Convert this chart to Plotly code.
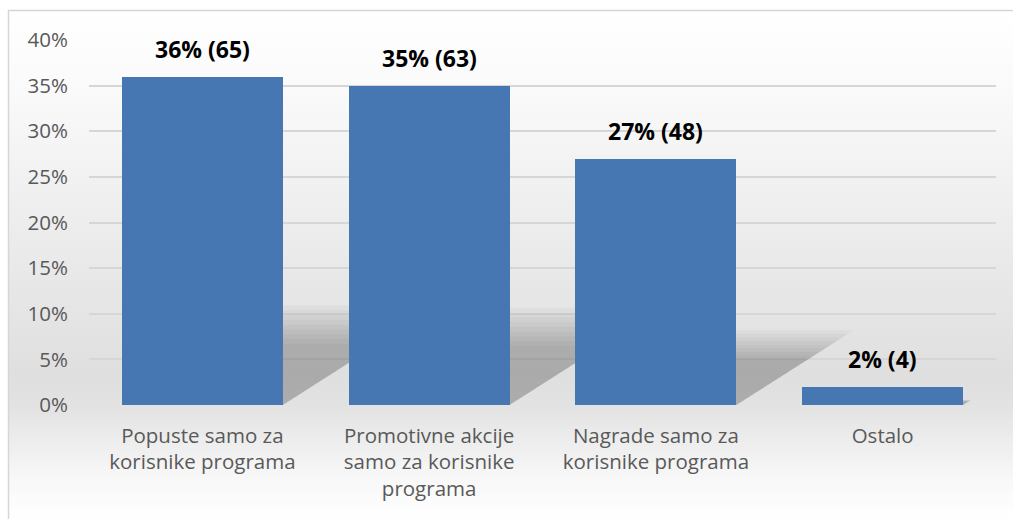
import plotly.graph_objects as go

# ---------------- data ----------------
categories = [
    "Popuste samo za<br>korisnike programa",
    "Promotivne akcije<br>samo za korisnike<br>programa",
    "Nagrade samo za<br>korisnike programa",
    "Ostalo",
]
percent = [36, 35, 27, 2]
counts = [65, 63, 48, 4]
y_ticks = [0, 5, 10, 15, 20, 25, 30, 35, 40]
y_tick_labels = [f"{t}%" for t in y_ticks]

# ---------------- layout constants ----------------
W, H = 1013, 519
ML, MR, MT, MB = 89, 17, 40, 114
PW, PH = W - ML - MR, H - MT - MB
FONT = "Open Sans"
TXT = "#595959"
GRID = "#d6d6d6"
BAR = "#4677b2"
BAR_W = 0.71


def px2x(px):
    return (px - ML) / PW


def py2y(py):
    return (H - MB - py) / PH


shapes = []

# background vertical gradient (white -> gray -> white)
stops = [(10, 255), (90, 250), (200, 239), (300, 230), (375, 223),
         (405, 226), (440, 237), (480, 248), (519, 255)]


def level(py):
    for (a, la), (b, lb) in zip(stops[:-1], stops[1:]):
        if a <= py <= b:
            t = (py - a) / (b - a)
            return la + (lb - la) * t
    return 255


step = 4
py = 10
while py < H:
    g = int(round(level(py + step / 2)))
    shapes.append(dict(type="rect", xref="paper", yref="paper",
                       x0=px2x(8), x1=px2x(W + 5),
                       y0=py2y(min(py + step, H + 5)), y1=py2y(py),
                       fillcolor=f"rgb({g},{g},{g})", line=dict(width=0),
                       layer="below"))
    py += step

# chart border
shapes.append(dict(type="rect", xref="paper", yref="paper",
                   x0=px2x(8.5), x1=px2x(W + 5), y0=py2y(H + 5), y1=py2y(10.5),
                   fillcolor="rgba(0,0,0,0)", line=dict(color=GRID, width=1.5),
                   layer="below"))

# perspective shadows behind the bars (derived from bar values), soft edges
y_px_per_unit = PH / 40.0
x_px_per_unit = PW / 4.0
factors = [0.76, 0.82, 0.88, 0.94, 1.0, 1.06, 1.12, 1.18, 1.24]
for i, v in enumerate(percent):
    for f in factors:
        hs = 0.245 * v * f
        s = 1.57 * hs * y_px_per_unit / x_px_per_unit
        w = BAR_W / 2
        path = (f"M {i - w},0 L {i + w},0 L {i + w + s},{hs} "
                f"L {i - w + s},{hs} Z")
        shapes.append(dict(type="path", xref="x", yref="y", path=path,
                           fillcolor="rgba(0,0,0,0.027)", line=dict(width=0),
                           layer="between"))

fig = go.Figure()
fig.add_trace(go.Bar(
    x=list(range(len(categories))), y=percent, width=BAR_W,
    marker=dict(color=BAR, line=dict(width=0)),
    hoverinfo="skip",
))

annotations = []
for i, (p, c) in enumerate(zip(percent, counts)):
    annotations.append(dict(x=i, y=p, xref="x", yref="y",
                            text=f"<b>{p}% ({c})</b>", showarrow=False,
                            yanchor="middle", yshift=28,
                            font=dict(family=FONT, size=23, color="black")))

fig.update_layout(
    width=W, height=H, autosize=False,
    margin=dict(l=ML, r=MR, t=MT, b=MB, pad=0),
    paper_bgcolor="white",
    plot_bgcolor="rgba(0,0,0,0)",
    showlegend=False,
    shapes=shapes,
    annotations=annotations,
    bargap=0,
    xaxis=dict(
        range=[-0.5, 3.5],
        tickvals=list(range(len(categories))),
        ticktext=categories,
        showgrid=False, zeroline=False, showline=False,
        ticks="", ticklabelstandoff=16,
        tickfont=dict(family=FONT, size=20.5, color=TXT),
    ),
    yaxis=dict(
        range=[0, 40],
        tickvals=y_ticks, ticktext=y_tick_labels,
        showgrid=True, gridcolor=GRID, gridwidth=1.5,
        zeroline=False, showline=False,
        ticks="", ticklabelstandoff=20,
        tickfont=dict(family=FONT, size=20.5, color=TXT),
    ),
)

fig.write_html("out.html", config={"displayModeBar": False},
               post_script="document.body.style.margin='0';")
